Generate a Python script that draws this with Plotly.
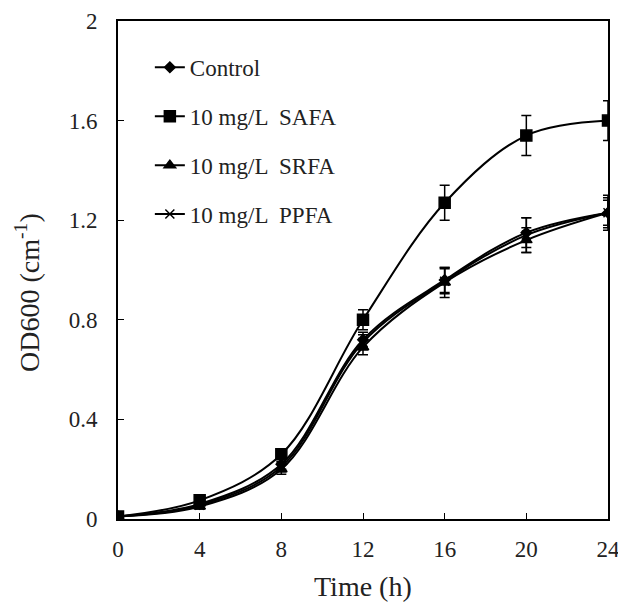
import plotly.graph_objects as go

time_h = [0, 4, 8, 12, 16, 20, 24]
control = [0.01, 0.06, 0.22, 0.72, 0.96, 1.15, 1.23]
control_err = [0.005, 0.01, 0.02, 0.03, 0.05, 0.06, 0.06]
safa = [0.01, 0.075, 0.26, 0.80, 1.27, 1.54, 1.60]
safa_err = [0.005, 0.01, 0.02, 0.04, 0.07, 0.08, 0.08]
srfa = [0.01, 0.05, 0.20, 0.69, 0.95, 1.12, 1.23]
srfa_err = [0.005, 0.01, 0.02, 0.03, 0.06, 0.05, 0.05]
ppfa = [0.01, 0.055, 0.21, 0.71, 0.955, 1.14, 1.23]
ppfa_err = [0.005, 0.01, 0.02, 0.03, 0.05, 0.07, 0.07]

x_ticks = [0, 4, 8, 12, 16, 20, 24]
y_ticks = [0, 0.4, 0.8, 1.2, 1.6, 2]
y_tick_text = ["0", "0.4", "0.8", "1.2", "1.6", "2"]

series = [
    ("Control", control, control_err, "diamond", 8),
    ("10 mg/L  SAFA", safa, safa_err, "square", 11),
    ("10 mg/L  SRFA", srfa, srfa_err, "triangle-up", 10),
    ("10 mg/L  PPFA", ppfa, ppfa_err, "x-thin", 9),
]

font_family = "Liberation Serif, Times New Roman, serif"

fig = go.Figure()
for i, (name, vals, errs, sym, size) in enumerate(series):
    fig.add_trace(go.Scatter(
        x=time_h, y=vals, name=name, mode="lines+markers",
        line=dict(color="black", width=2, shape="spline", smoothing=1.0),
        marker=dict(symbol=sym, size=size, color="black",
                    line=dict(color="black", width=1.5)),
        error_y=dict(type="data", array=errs, visible=True, color="black",
                     thickness=1.5, width=5),
        legendgroup=f"g{i}",
    ))

fig.update_layout(
    width=618, height=598,
    margin=dict(l=110, r=18, t=13, b=87, autoexpand=False),
    paper_bgcolor="white", plot_bgcolor="white",
    font=dict(family=font_family, size=23, color="#222"),
    showlegend=True,
    legend=dict(x=0.065, y=0.95, xanchor="left", yanchor="top",
                bgcolor="rgba(0,0,0,0)", tracegroupgap=16,
                font=dict(family=font_family, size=23, color="#222")),
    xaxis=dict(range=[0, 24], tickvals=x_ticks, automargin=False,
               ticks="inside", ticklen=6, tickwidth=1, tickcolor="black",
               ticklabelstandoff=8,
               showline=True, linecolor="black", linewidth=2, mirror=True,
               showgrid=False, zeroline=False),
    yaxis=dict(range=[0, 2], tickvals=y_ticks, ticktext=y_tick_text,
               automargin=False,
               ticks="inside", ticklen=6, tickwidth=1, tickcolor="black",
               ticklabelstandoff=14,
               showline=True, linecolor="black", linewidth=2, mirror=True,
               showgrid=False, zeroline=False),
    annotations=[
        dict(text="Time (h)", xref="paper", yref="paper", x=0.5, y=-0.1365,
             xanchor="center", yanchor="middle", showarrow=False,
             font=dict(size=28, family=font_family, color="#222")),
        dict(text="OD600 (cm<sup>-1</sup>)", xref="paper", yref="paper",
             x=-0.1837, y=0.456, textangle=-90,
             xanchor="center", yanchor="middle", showarrow=False,
             font=dict(size=28, family=font_family, color="#222")),
    ],
)

fig.write_html("out.html")
